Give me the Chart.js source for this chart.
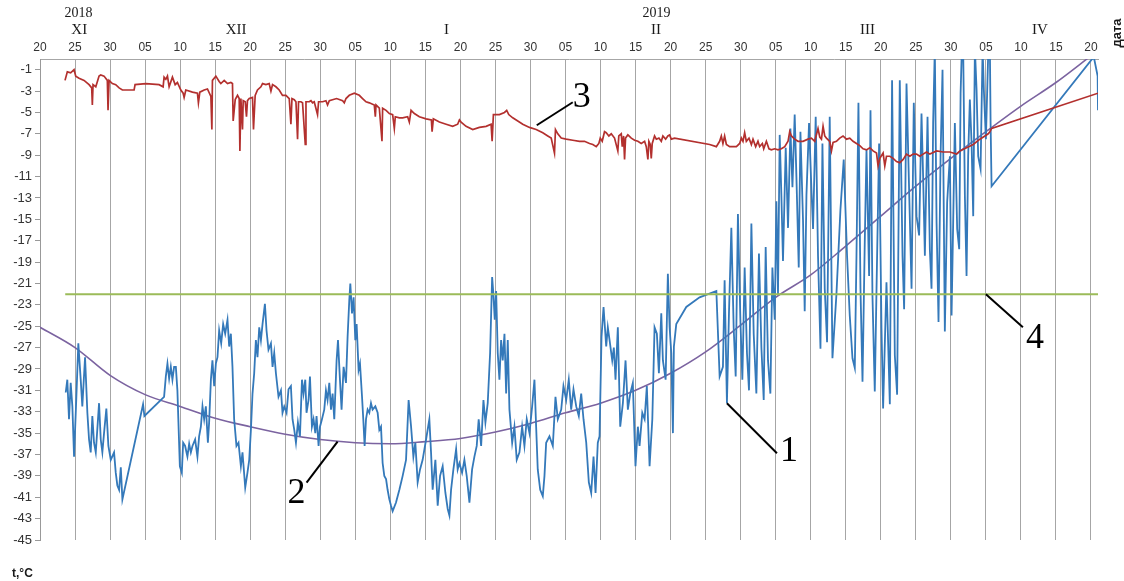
<!DOCTYPE html>
<html>
<head>
<meta charset="utf-8">
<title>Температура воздуха и грунта, 2018–2019</title>
<script src="https://cdn.jsdelivr.net/npm/chart.js@4.4.1/dist/chart.umd.min.js"></script>
<style>
  html, body { margin: 0; padding: 0; background: #ffffff; }
  canvas { display: block; }
</style>
</head>
<body>
<canvas id="chart" width="1124" height="581"></canvas>
<script>
// Day 0 = 20 November 2018; ticks every 5 days.
const dayTicks = [0,5,10,15,20,25,30,35,40,45,50,55,60,65,70,75,80,85,90,95,100,105,110,115,120,125,130,135,140,145,150];
const dayLabels = ['20','25','30','05','10','15','20','25','30','05','10','15','20','25','30','05','10','15','20','25','30','05','10','15','20','25','30','05','10','15','20'];
const tempTicks = [-45,-43,-41,-39,-37,-35,-33,-31,-29,-27,-25,-23,-21,-19,-17,-15,-13,-11,-9,-7,-5,-3,-1];

// Month / year captions above the day labels
const monthNames = ['XI','XII','I','II','III','IV'];
const monthDays  = [5.6, 28.0, 58.0, 87.9, 118.1, 142.7];
const yearNames  = ['2018','2019'];
const yearDays   = [5.5, 88.0];

// 1 — air temperature
const airDays = [3.67,3.9,4.14,4.38,4.62,4.86,5.19,5.47,5.81,6.04,6.43,6.76,7.0,7.24,7.47,7.71,7.96,8.43,8.67,8.9,9.14,9.47,9.76,10.1,10.57,10.81,11.04,11.29,11.53,11.76,
14.71,14.9,17.71,17.96,18.19,18.43,18.67,18.9,19.14,19.39,19.61,19.96,20.24,20.43,20.71,21.04,21.29,21.53,21.76,22.14,22.47,22.71,22.96,23.19,23.43,23.67,23.96,24.14,24.39,24.61,24.86,
25.1,25.33,25.57,25.86,26.14,26.43,26.76,27.0,27.24,27.47,27.71,28.04,28.33,28.67,28.9,29.29,29.61,29.86,30.1,30.33,30.57,30.81,31.04,31.29,31.53,31.76,32.1,32.33,32.61,32.96,
33.19,33.43,33.67,34.04,34.39,34.61,34.86,35.19,35.47,35.81,36.04,36.29,36.53,36.81,37.1,37.39,37.61,37.86,38.04,38.33,38.53,38.81,39.04,39.29,39.47,39.76,39.96,
40.24,40.57,40.81,41.04,41.29,41.53,41.76,42.0,42.33,42.53,42.81,43.04,43.33,43.67,43.9,44.14,44.29,44.53,44.76,45.0,45.19,45.47,45.67,45.96,46.14,46.33,46.53,46.76,
47.0,47.24,47.47,47.86,48.19,48.43,48.67,48.9,49.14,49.39,49.61,49.86,50.1,50.33,50.81,51.29,51.76,52.24,52.61,52.96,53.29,53.57,53.9,54.24,54.61,55.1,
55.57,55.81,56.04,56.43,56.76,57.1,57.47,57.86,58.19,58.43,58.67,59.0,59.39,59.61,59.86,60.24,60.57,60.9,61.29,61.67,62.0,62.33,62.61,62.96,63.29,63.57,63.9,
64.24,64.53,64.71,64.9,65.1,65.33,65.57,65.81,66.04,66.29,66.53,66.76,67.0,67.39,67.71,68.04,68.43,68.81,69.14,69.47,69.86,70.24,70.57,70.81,71.04,71.39,71.76,
72.0,72.24,72.71,73.19,73.57,73.9,74.39,74.71,75.1,75.47,75.81,76.14,76.53,76.9,77.24,77.57,77.96,78.33,78.67,79.0,79.29,79.61,79.86,
80.14,80.43,80.81,81.04,81.29,81.67,81.9,82.14,82.47,82.81,83.19,83.57,83.9,84.24,84.61,84.99,85.33,85.57,85.96,86.29,86.61,87.0,87.39,87.71,
88.04,88.33,88.67,88.9,89.29,89.61,89.86,90.1,90.33,90.47,90.81,92.24,94.14,96.53,
97.0,97.47,97.71,98.04,98.33,98.67,99.0,99.29,99.61,99.96,100.24,100.57,100.9,101.19,101.53,101.86,102.24,102.61,102.96,103.29,103.57,103.9,104.24,104.53,104.86,
105.1,105.33,105.57,105.81,106.04,106.43,106.76,107.1,107.39,107.71,107.96,108.29,108.53,108.9,109.14,109.39,109.76,110.1,110.33,110.71,111.04,111.39,111.67,112.0,112.33,112.71,
113.1,113.67,114.24,114.71,115.19,115.57,115.96,116.29,116.53,116.81,117.1,117.39,117.71,117.96,118.33,118.53,118.81,119.14,119.39,119.76,120.1,120.33,120.81,
121.29,121.61,122.0,122.33,122.71,123.1,123.33,123.67,124.04,124.39,124.71,125.1,125.47,125.81,126.04,126.29,126.67,127.0,127.24,127.47,127.71,127.96,128.24,128.53,128.81,
129.14,129.47,129.86,130.1,130.33,130.57,130.9,131.19,131.39,131.57,131.76,132.0,132.24,132.47,132.71,132.96,133.19,133.43,133.67,133.9,134.24,134.53,134.71,135.0,135.33,135.57,135.67,135.81,
150.4,150.95,151.0];
const airTemps = [-31.2,-30.0,-33.7,-30.3,-32.5,-37.2,-31.6,-26.6,-30.0,-32.5,-27.9,-33.1,-35.6,-36.8,-33.4,-35.9,-36.8,-32.2,-35.6,-36.8,-35.0,-32.7,-36.2,-37.5,-36.8,-38.7,-39.9,-40.3,-38.2,-41.2,
-32.3,-33.4,-31.6,-29.7,-28.5,-29.9,-28.8,-30.0,-28.8,-28.8,-31.0,-38.1,-38.7,-35.9,-36.2,-37.2,-36.0,-36.8,-36.2,-35.6,-37.2,-35.3,-34.4,-32.5,-33.7,-32.5,-35.9,-34.0,-30.0,-28.2,-30.6,
-28.5,-27.9,-25.4,-26.6,-24.8,-25.7,-24.4,-26.9,-25.7,-28.8,-33.7,-36.2,-35.9,-38.1,-36.8,-40.1,-38.7,-37.5,-34.7,-31.3,-29.4,-26.3,-27.9,-25.1,-26.3,-24.8,-22.9,-25.4,-27.2,-26.6,
-28.8,-27.5,-29.4,-31.6,-31.0,-33.1,-32.5,-33.1,-30.9,-30.6,-33.7,-34.7,-35.9,-34.0,-35.3,-30.0,-31.3,-30.0,-33.1,-31.9,-29.7,-34.4,-33.7,-35.0,-33.4,-36.2,-34.4,
-33.7,-32.8,-31.0,-31.9,-30.3,-32.8,-31.3,-33.7,-28.2,-26.3,-30.0,-32.8,-28.8,-30.3,-26.0,-22.6,-21.0,-23.8,-22.3,-26.3,-24.8,-29.1,-28.5,-31.6,-33.7,-36.2,-33.7,-32.8,
-33.1,-32.2,-32.8,-32.5,-33.1,-34.7,-34.4,-37.8,-39.0,-39.3,-40.3,-41.2,-41.8,-42.3,-41.5,-40.3,-39.0,-37.5,-31.9,-34.4,-37.2,-35.9,-39.6,-38.4,-37.5,-35.6,
-33.7,-36.8,-40.3,-37.5,-41.8,-39.0,-38.1,-40.6,-42.1,-42.7,-40.3,-38.4,-36.5,-38.4,-37.8,-38.7,-37.5,-39.0,-41.5,-38.4,-37.2,-36.2,-33.7,-36.2,-31.9,-34.0,-32.2,
-27.5,-20.4,-22.0,-24.4,-21.7,-27.5,-30.0,-26.3,-28.2,-25.7,-31.3,-26.3,-32.8,-35.9,-34.4,-37.5,-36.8,-34.4,-36.2,-33.7,-35.0,-32.5,-30.0,-34.4,-38.4,-40.3,-40.9,
-39.0,-35.9,-35.3,-36.2,-31.6,-33.7,-32.8,-30.6,-31.9,-30.0,-32.8,-30.9,-32.5,-33.4,-31.3,-33.7,-35.9,-39.6,-40.6,-37.2,-40.6,-35.9,-35.3,
-26.0,-23.2,-26.9,-25.1,-26.3,-28.2,-27.0,-30.0,-25.1,-34.4,-32.2,-28.2,-32.8,-31.3,-30.3,-38.1,-34.4,-36.2,-33.1,-33.7,-30.6,-38.1,-33.7,-25.1,
-25.7,-29.4,-23.8,-28.2,-30.0,-20.1,-25.1,-27.5,-35.0,-26.9,-24.8,-23.2,-22.3,-21.7,
-29.7,-28.8,-20.7,-32.2,-23.8,-15.8,-25.1,-29.7,-14.5,-24.4,-30.0,-19.5,-27.5,-31.0,-15.4,-25.7,-31.3,-18.2,-27.0,-31.9,-17.6,-28.2,-31.3,-19.5,-24.4,
-13.3,-22.0,-7.1,-12.7,-18.9,-8.3,-15.8,-6.5,-12.0,-5.2,-11.1,-19.5,-6.8,-15.1,-23.6,-12.7,-6.0,-12.2,-15.9,-5.4,-18.4,-27.1,-7.9,-21.5,-26.5,-5.4,
-28.0,-22.0,-14.1,-9.4,-18.5,-24.0,-28.0,-28.9,-18.4,-4.1,-21.5,-30.2,-17.2,-8.5,-20.3,-4.8,-22.1,-31.1,-21.5,-7.9,-25.2,-32.7,-20.9,
-32.3,-2.0,-27.7,-31.4,-2.0,-18.4,-23.4,-2.3,-12.2,-21.5,-4.1,-14.7,-16.5,-5.1,-11.0,-18.4,-5.4,-17.8,-21.5,-6.0,1.0,-15.3,-24.6,-9.1,-1.0,
-25.5,-13.4,-9.1,-24.0,-15.3,-6.0,-15.9,-17.8,-3.2,1.0,0.8,-12.8,-20.3,-9.1,-3.8,-7.9,-14.7,1.0,-2.9,-9.1,-10.3,1.0,-2.9,-7.5,0.5,1.0,-6.0,-11.9,
0.2,-1.6,-4.8];

// 2 — smoothed seasonal course of air temperature
const trendDays  = [0,5,10,15,20,25,30,35,40,45,50,55,60,65,70,75,80,85,90,95,100,105,110,115,120,125,130,135,140,145,150,151];
const trendTemps = [-25.1,-27.0,-29.6,-31.4,-32.5,-33.6,-34.4,-35.1,-35.6,-35.9,-36.0,-35.8,-35.5,-34.9,-34.1,-33.1,-32.2,-31.0,-29.4,-27.4,-24.9,-22.3,-20.2,-17.5,-14.7,-11.9,-9.3,-6.8,-4.4,-2.2,0.3,0.8];

// 3 — ground temperature
const soilDays = [3.57,3.9,4.38,4.86,5.1,5.57,6.29,7.0,7.38,7.47,7.57,7.96,8.43,8.67,9.14,9.61,9.71,9.86,10.33,10.81,11.29,11.76,13.43,13.57,15.1,17.0,17.57,17.71,17.96,18.19,18.43,18.9,19.29,19.61,
20.1,20.43,20.57,20.81,21.76,22.47,22.61,22.81,23.43,23.9,24.39,24.53,24.61,25.1,25.57,25.81,26.29,26.76,27.24,27.47,27.57,27.86,28.19,28.43,28.53,28.67,28.9,29.0,29.29,29.47,29.61,29.86,
30.33,30.47,30.71,31.04,31.53,31.76,32.24,32.71,32.96,33.19,33.67,34.14,34.61,35.1,35.57,35.81,35.96,36.29,36.53,36.76,36.9,37.24,37.47,37.86,37.96,38.43,38.67,38.9,39.14,39.61,39.76,
40.33,40.81,41.04,41.29,42.33,43.19,43.43,43.67,44.14,44.86,45.57,46.04,46.53,47.0,47.71,47.86,47.96,48.43,48.81,48.9,49.39,49.86,50.33,50.57,50.71,51.29,51.76,52.47,52.71,52.96,53.43,
54.14,55.1,55.86,55.96,56.14,57.0,57.96,58.9,59.61,59.86,60.1,60.81,61.76,62.71,63.67,64.38,64.53,64.71,65.57,66.29,66.61,66.9,67.47,68.19,68.9,69.86,70.81,71.76,72.47,72.96,73.43,73.57,
73.9,74.39,75.1,76.04,77.0,77.71,78.43,78.9,79.39,79.76,79.96,80.24,80.57,80.81,81.19,81.53,82.0,82.47,82.61,82.96,83.1,83.29,83.43,83.57,83.9,84.39,84.86,85.33,85.81,86.29,86.53,86.76,86.9,
87.1,87.24,87.38,87.71,87.96,88.33,88.67,88.9,89.29,89.61,89.86,90.1,90.57,95.57,96.53,97.0,97.24,97.47,97.71,97.96,98.43,99.39,99.86,100.1,100.33,100.57,100.81,101.19,101.53,101.76,
102.14,102.47,102.71,103.1,103.29,103.67,104.04,104.38,104.86,105.33,105.81,106.29,106.76,107.0,107.24,107.71,108.19,108.9,109.61,110.1,110.57,111.04,111.29,111.53,111.76,112.0,112.24,112.71,
112.96,113.19,113.67,114.14,114.61,115.1,115.57,116.04,116.53,117.0,117.47,117.96,118.43,118.9,119.39,119.61,119.86,120.33,120.57,120.81,121.29,121.76,122.24,122.71,123.19,123.67,124.14,
124.61,125.1,125.57,126.04,126.53,127.0,127.96,128.9,129.86,130.81,131.29,132.24,133.19,134.14,134.86,135.33,135.57,135.81,151.0];
const soilTemps = [-2.0,-1.2,-1.3,-1.0,-1.6,-1.8,-2.0,-2.4,-2.7,-4.3,-2.4,-2.6,-1.6,-1.5,-1.6,-2.0,-4.8,-2.0,-2.3,-2.4,-2.7,-2.9,-2.9,-2.4,-2.3,-2.4,-2.6,-1.7,-1.9,-1.6,-2.6,-1.7,-2.4,-2.2,
-2.9,-3.2,-3.6,-2.9,-3.1,-3.2,-4.1,-3.1,-2.9,-2.8,-3.5,-6.6,-2.0,-1.6,-2.1,-2.3,-2.0,-2.3,-2.2,-2.3,-5.8,-3.8,-3.4,-3.7,-8.6,-3.7,-6.6,-3.9,-4.0,-5.4,-3.9,-3.7,
-3.6,-6.6,-3.4,-2.9,-2.6,-2.3,-2.4,-2.3,-3.0,-2.4,-2.6,-2.9,-3.4,-3.4,-3.7,-6.1,-3.7,-3.8,-4.0,-7.5,-4.0,-4.0,-4.1,-8.0,-4.0,-4.0,-3.9,-4.1,-4.0,-5.2,-4.0,
-4.0,-3.9,-4.3,-3.9,-3.7,-3.9,-4.1,-3.7,-3.4,-3.2,-3.4,-3.7,-4.0,-4.1,-4.3,-5.4,-4.3,-4.6,-7.7,-4.6,-4.8,-5.1,-5.2,-6.5,-5.4,-5.5,-5.5,-5.4,-5.9,-4.8,-5.1,
-5.4,-5.6,-5.7,-6.8,-5.6,-5.9,-6.1,-6.3,-6.1,-5.7,-5.9,-6.3,-6.6,-6.4,-6.3,-6.1,-7.7,-5.2,-5.2,-5.0,-4.8,-5.2,-5.5,-5.8,-6.1,-6.4,-6.6,-6.9,-7.2,-7.4,-8.8,-6.6,
-7.0,-7.4,-7.5,-7.6,-7.7,-7.7,-7.9,-8.0,-8.2,-7.9,-7.4,-7.7,-6.8,-6.9,-7.2,-7.0,-7.4,-8.6,-7.2,-7.0,-8.2,-7.2,-9.4,-7.4,-7.1,-7.4,-7.6,-7.7,-7.9,-7.7,-8.2,-9.4,-7.7,
-8.0,-9.3,-7.9,-7.2,-7.5,-7.4,-7.7,-7.2,-7.5,-7.2,-7.1,-7.5,-7.4,-8.0,-8.2,-7.7,-7.2,-7.9,-7.2,-8.0,-8.2,-8.2,-7.9,-7.4,-7.7,-6.9,-7.7,-7.4,-8.0,-7.5,
-8.2,-7.7,-8.2,-7.9,-8.4,-7.7,-8.4,-8.5,-8.4,-8.5,-8.4,-8.2,-7.7,-6.8,-7.2,-7.5,-7.7,-7.7,-7.5,-7.4,-7.7,-6.5,-7.3,-7.5,-6.3,-7.2,-7.4,-7.7,
-8.6,-7.8,-7.7,-7.4,-7.2,-7.5,-7.4,-7.7,-7.9,-8.1,-8.4,-8.5,-8.3,-8.6,-8.8,-10.0,-9.3,-8.8,-10.0,-9.1,-9.1,-9.3,-9.6,-9.7,-9.4,-8.9,-9.1,
-8.9,-8.9,-9.1,-8.9,-8.7,-8.9,-8.6,-8.7,-8.7,-8.9,-8.6,-8.3,-8.0,-7.5,-7.2,-7.0,-6.8,-6.5,-3.2];

// 4 — threshold level
const limitDays  = [3.6, 151];
const limitTemps = [-22, -22];

// Numbered callouts: anchor in data units, leader end and digit centre as pixel offsets
const calloutText = ['1','2','3','4'];
const calloutDay  = [98.04, 42.47, 70.9, 135.0];
const calloutTemp = [-32.2, -35.8, -6.2, -22.0];
const calloutEnd  = [[50, 50], [-31, 41], [36, -23], [37, 33]];
const calloutPos  = [[62, 48], [-41, 52], [45, -28], [49, 44]];

const pts = (xs, ys) => xs.map((x, i) => ({ x: x, y: ys[i] }));

const captions = {
  id: 'captions',
  afterDraw(chart) {
    const c = chart.ctx;
    const xs = chart.scales.x, ys = chart.scales.y;
    c.save();
    c.fillStyle = '#1a1a1a';
    c.textAlign = 'center';
    c.textBaseline = 'middle';
    c.font = '15px "Liberation Serif", serif';
    monthNames.forEach((m, i) => c.fillText(m, xs.getPixelForValue(monthDays[i]), 30));
    c.font = '14px "Liberation Serif", serif';
    yearNames.forEach((y, i) => c.fillText(y, xs.getPixelForValue(yearDays[i]), 13));

    // axis captions
    c.font = 'bold 12px "Liberation Sans", Arial, sans-serif';
    c.textAlign = 'left';
    c.fillText('t,°C', 12, 574);
    c.save();
    c.translate(1117, 33);
    c.rotate(-Math.PI / 2);
    c.textAlign = 'center';
    c.font = 'bold 13px "Liberation Sans", Arial, sans-serif';
    c.fillText('дата', 0, 0);
    c.restore();

    // callouts
    c.strokeStyle = '#000';
    c.lineWidth = 2;
    c.font = '36px "Liberation Serif", serif';
    c.textAlign = 'center';
    c.fillStyle = '#000';
    calloutText.forEach((t, i) => {
      const ax = xs.getPixelForValue(calloutDay[i]);
      const ay = ys.getPixelForValue(calloutTemp[i]);
      c.beginPath();
      c.moveTo(ax, ay);
      c.lineTo(ax + calloutEnd[i][0], ay + calloutEnd[i][1]);
      c.stroke();
      c.fillText(t, ax + calloutPos[i][0], ay + calloutPos[i][1]);
    });
    c.restore();
  }
};

new Chart(document.getElementById('chart'), {
  type: 'line',
  data: {
    datasets: [
      { label: '4', data: pts(limitDays, limitTemps), borderColor: '#9bbb59', borderWidth: 2, pointRadius: 0, clip: 0 },
      { label: '3', data: pts(soilDays, soilTemps), borderColor: '#b3302e', borderWidth: 1.7, pointRadius: 0, tension: 0, clip: 0 },
      { label: '1', data: pts(airDays, airTemps), borderColor: '#3479ba', borderWidth: 1.8, pointRadius: 0, tension: 0, clip: 0 },
      { label: '2', data: pts(trendDays, trendTemps), borderColor: '#7b63a0', borderWidth: 1.6, pointRadius: 0, cubicInterpolationMode: 'monotone', clip: 0 }
    ]
  },
  options: {
    responsive: false,
    animation: false,
    events: [],
    layout: { padding: { left: 0, top: 0, right: 26, bottom: 41 } },
    plugins: { legend: { display: false }, tooltip: { enabled: false } },
    scales: {
      x: {
        type: 'linear',
        position: 'top',
        min: 0,
        max: 151,
        afterBuildTicks: s => { s.ticks = dayTicks.map(v => ({ value: v })); },
        afterFit: s => { s.height = 59; },
        ticks: {
          autoSkip: false,
          maxRotation: 0,
          padding: 4,
          color: '#333',
          font: { family: '"Liberation Sans", Arial, sans-serif', size: 12 },
          callback: (v, i) => dayLabels[i]
        },
        grid: { color: '#a6a6a6', lineWidth: 1, drawTicks: false },
        border: { display: true, color: '#a6a6a6' }
      },
      y: {
        min: -45,
        max: 0,
        afterBuildTicks: s => { s.ticks = tempTicks.map(v => ({ value: v })); },
        afterFit: s => { s.width = 40; },
        ticks: {
          padding: 3,
          color: '#333',
          font: { family: '"Liberation Sans", Arial, sans-serif', size: 13 },
          callback: v => String(v)
        },
        grid: { drawOnChartArea: false, drawTicks: true, tickLength: 5, color: '#999' },
        border: { display: true, color: '#999' }
      }
    }
  },
  plugins: [captions]
});
</script>
</body>
</html>
